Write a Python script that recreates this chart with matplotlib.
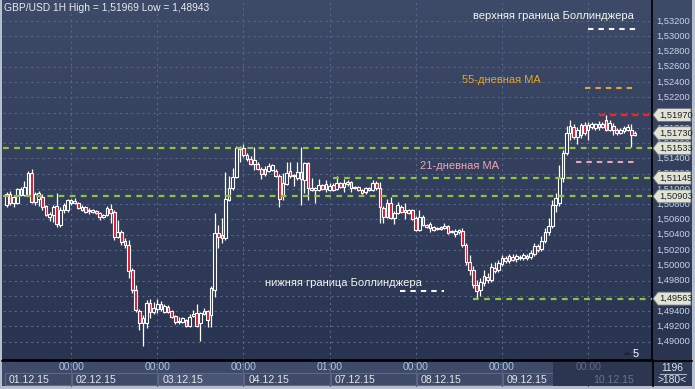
import numpy as np
import matplotlib
matplotlib.use("Agg")
import matplotlib.pyplot as plt
import matplotlib.transforms as mtransforms
from matplotlib.patches import Rectangle, Polygon

plt.rcParams['font.family'] = ['Liberation Sans', 'DejaVu Sans']

W, H = 695, 389

# GBP/USD 1H candles
opens = [
    1.5079, 1.5093, 1.5082, 1.5082, 1.5100, 1.5092, 1.5092, 1.5121, 1.5083, 1.5087,
    1.5089, 1.5078, 1.5063, 1.5066, 1.5078, 1.5053, 1.5072, 1.5072, 1.5086, 1.5082,
    1.5082, 1.5072, 1.5076, 1.5071, 1.5070, 1.5071, 1.5069, 1.5063, 1.5066, 1.5074,
    1.5070, 1.5037, 1.5044, 1.5032, 1.5027, 1.4994, 1.4968, 1.4940, 1.4924, 1.4924,
    1.4951, 1.4939, 1.4943, 1.4949, 1.4939, 1.4945, 1.4940, 1.4934, 1.4926, 1.4926,
    1.4928, 1.4920, 1.4934, 1.4937, 1.4924, 1.4936, 1.4940, 1.4935, 1.4968, 1.5042,
    1.5040, 1.5036, 1.5086, 1.5101, 1.5116, 1.5152, 1.5154, 1.5145, 1.5139, 1.5133,
    1.5133, 1.5126, 1.5120, 1.5123, 1.5125, 1.5123, 1.5117, 1.5092, 1.5106, 1.5123,
    1.5117, 1.5114, 1.5122, 1.5112, 1.5134, 1.5101, 1.5099, 1.5099, 1.5105, 1.5100,
    1.5099, 1.5105, 1.5100, 1.5108, 1.5102, 1.5109, 1.5109, 1.5101, 1.5102, 1.5099,
    1.5096, 1.5099, 1.5099, 1.5108, 1.5101, 1.5075, 1.5063, 1.5082, 1.5062, 1.5069,
    1.5076, 1.5072, 1.5072, 1.5072, 1.5062, 1.5046, 1.5063, 1.5053, 1.5049, 1.5050,
    1.5048, 1.5048, 1.5049, 1.5051, 1.5044, 1.5041, 1.5044, 1.5045, 1.5027, 1.5004,
    1.4994, 1.4974, 1.4968, 1.4977, 1.4985, 1.4981, 1.4996, 1.4994, 1.5002, 1.5010,
    1.5006, 1.5011, 1.5008, 1.5011, 1.5010, 1.5012, 1.5011, 1.5015, 1.5025, 1.5021,
    1.5032, 1.5044, 1.5051, 1.5079, 1.5082, 1.5114, 1.5147, 1.5173, 1.5181, 1.5168,
    1.5171, 1.5184, 1.5177, 1.5181, 1.5180, 1.5181, 1.5185, 1.5190, 1.5177, 1.5182,
    1.5177, 1.5173, 1.5176, 1.5177, 1.5177, 1.5171,
]
highs = [
    1.5096, 1.5097, 1.5092, 1.5101, 1.5102, 1.5110, 1.5123, 1.5126, 1.5096, 1.5097,
    1.5093, 1.5079, 1.5070, 1.5079, 1.5095, 1.5076, 1.5082, 1.5087, 1.5087, 1.5088,
    1.5083, 1.5079, 1.5078, 1.5075, 1.5074, 1.5072, 1.5070, 1.5067, 1.5078, 1.5080,
    1.5072, 1.5059, 1.5046, 1.5036, 1.5033, 1.4996, 1.4974, 1.4943, 1.4935, 1.4955,
    1.4956, 1.4952, 1.4956, 1.4953, 1.4949, 1.4948, 1.4941, 1.4935, 1.4932, 1.4932,
    1.4930, 1.4936, 1.4941, 1.4949, 1.4939, 1.4944, 1.4941, 1.4973, 1.5069, 1.5053,
    1.5062, 1.5122, 1.5117, 1.5127, 1.5156, 1.5156, 1.5159, 1.5147, 1.5143, 1.5155,
    1.5135, 1.5129, 1.5130, 1.5134, 1.5133, 1.5126, 1.5120, 1.5121, 1.5135, 1.5135,
    1.5120, 1.5135, 1.5155, 1.5135, 1.5135, 1.5114, 1.5102, 1.5113, 1.5106, 1.5112,
    1.5108, 1.5108, 1.5117, 1.5109, 1.5113, 1.5112, 1.5110, 1.5104, 1.5104, 1.5100,
    1.5102, 1.5102, 1.5112, 1.5110, 1.5109, 1.5078, 1.5087, 1.5089, 1.5071, 1.5083,
    1.5079, 1.5082, 1.5074, 1.5074, 1.5065, 1.5072, 1.5066, 1.5054, 1.5057, 1.5051,
    1.5050, 1.5051, 1.5055, 1.5053, 1.5046, 1.5048, 1.5048, 1.5049, 1.5029, 1.5013,
    1.4999, 1.4981, 1.4983, 1.4994, 1.4990, 1.5003, 1.5004, 1.5007, 1.5013, 1.5012,
    1.5015, 1.5015, 1.5015, 1.5013, 1.5016, 1.5015, 1.5020, 1.5029, 1.5028, 1.5038,
    1.5049, 1.5062, 1.5086, 1.5095, 1.5131, 1.5151, 1.5182, 1.5190, 1.5185, 1.5181,
    1.5186, 1.5188, 1.5188, 1.5188, 1.5186, 1.5189, 1.5188, 1.51969, 1.5190, 1.5186,
    1.5180, 1.5180, 1.5182, 1.5185, 1.5185, 1.5176,
]
lows = [
    1.5076, 1.5079, 1.5076, 1.5080, 1.5091, 1.5091, 1.5091, 1.5082, 1.5079, 1.5078,
    1.5072, 1.5065, 1.5058, 1.5057, 1.5050, 1.5050, 1.5069, 1.5070, 1.5079, 1.5080,
    1.5074, 1.5071, 1.5069, 1.5067, 1.5069, 1.5067, 1.5059, 1.5062, 1.5065, 1.5055,
    1.5033, 1.5036, 1.5027, 1.5023, 1.4983, 1.4964, 1.4939, 1.4915, 1.48943, 1.4918,
    1.4931, 1.4936, 1.4937, 1.4940, 1.4937, 1.4937, 1.4931, 1.4923, 1.4923, 1.4924,
    1.4919, 1.4919, 1.4932, 1.4919, 1.4901, 1.4935, 1.4919, 1.4919, 1.4958, 1.5023,
    1.5029, 1.5033, 1.5084, 1.5099, 1.5114, 1.5135, 1.5142, 1.5137, 1.5131, 1.5125,
    1.5125, 1.5113, 1.5117, 1.5122, 1.5123, 1.5116, 1.5076, 1.5086, 1.5105, 1.5114,
    1.5104, 1.5112, 1.5079, 1.5095, 1.5086, 1.5097, 1.5082, 1.5097, 1.5099, 1.5096,
    1.5097, 1.5097, 1.5099, 1.5101, 1.5096, 1.5104, 1.5096, 1.5100, 1.5097, 1.5093,
    1.5093, 1.5097, 1.5097, 1.5099, 1.5055, 1.5055, 1.5062, 1.5061, 1.5054, 1.5067,
    1.5069, 1.5061, 1.5067, 1.5059, 1.5045, 1.5045, 1.5051, 1.5049, 1.5044, 1.5045,
    1.5046, 1.5046, 1.5048, 1.5041, 1.5042, 1.5037, 1.5041, 1.5024, 1.5000, 1.4987,
    1.4970, 1.4957, 1.4960, 1.4973, 1.4977, 1.4978, 1.4990, 1.4991, 1.4999, 1.5003,
    1.5003, 1.5006, 1.5004, 1.5007, 1.5007, 1.5007, 1.5008, 1.5012, 1.5017, 1.5019,
    1.5029, 1.5040, 1.5049, 1.5070, 1.5078, 1.5109, 1.5145, 1.5164, 1.5165, 1.5159,
    1.5167, 1.5171, 1.5164, 1.5179, 1.5177, 1.5177, 1.5180, 1.5176, 1.5176, 1.5171,
    1.5171, 1.5172, 1.5173, 1.5176, 1.5155, 1.5169,
]
closes = [
    1.5093, 1.5082, 1.5089, 1.5100, 1.5092, 1.5102, 1.5121, 1.5083, 1.5093, 1.5095,
    1.5076, 1.5066, 1.5067, 1.5076, 1.5054, 1.5072, 1.5079, 1.5086, 1.5082, 1.5084,
    1.5075, 1.5076, 1.5070, 1.5072, 1.5072, 1.5069, 1.5063, 1.5066, 1.5075, 1.5069,
    1.5037, 1.5044, 1.5030, 1.5027, 1.4992, 1.4968, 1.4941, 1.4924, 1.4931, 1.4951,
    1.4939, 1.4944, 1.4949, 1.4943, 1.4947, 1.4939, 1.4932, 1.4926, 1.4927, 1.4931,
    1.4920, 1.4932, 1.4936, 1.4920, 1.4937, 1.4940, 1.4928, 1.4970, 1.5042, 1.5037,
    1.5036, 1.5087, 1.5101, 1.5116, 1.5154, 1.5154, 1.5145, 1.5139, 1.5133, 1.5138,
    1.5126, 1.5120, 1.5126, 1.5130, 1.5131, 1.5117, 1.5087, 1.5108, 1.5121, 1.5117,
    1.5118, 1.5122, 1.5113, 1.5134, 1.5101, 1.5099, 1.5101, 1.5105, 1.5100, 1.5106,
    1.5104, 1.5099, 1.5108, 1.5102, 1.5108, 1.5106, 1.5101, 1.5102, 1.5099, 1.5095,
    1.5101, 1.5101, 1.5108, 1.5101, 1.5076, 1.5063, 1.5082, 1.5062, 1.5069, 1.5079,
    1.5070, 1.5070, 1.5069, 1.5061, 1.5046, 1.5063, 1.5053, 1.5050, 1.5054, 1.5046,
    1.5049, 1.5050, 1.5051, 1.5042, 1.5045, 1.5045, 1.5046, 1.5027, 1.5004, 1.4994,
    1.4974, 1.4966, 1.4978, 1.4986, 1.4981, 1.4998, 1.4992, 1.5003, 1.5010, 1.5006,
    1.5012, 1.5007, 1.5012, 1.5010, 1.5013, 1.5010, 1.5016, 1.5025, 1.5020, 1.5032,
    1.5044, 1.5051, 1.5079, 1.5088, 1.5114, 1.5147, 1.5173, 1.5182, 1.5168, 1.5177,
    1.5184, 1.5173, 1.5184, 1.5185, 1.5185, 1.5185, 1.5181, 1.5177, 1.5186, 1.5177,
    1.5173, 1.5177, 1.5180, 1.5181, 1.5171, 1.5173,
]

# support / resistance levels (price, first bar of the dashed line)
level_prices = [1.51533, 1.51145, 1.50903, 1.49563]
level_from_bar = [-1, 91, -1, 130]
high_level = 1.51970          # red line, day high
high_level_from_bar = 165

# indicator markers
upper_bb = 1.53095
ma55 = 1.52322
ma21 = 1.51353
lower_bb = 1.49663

tag_prices = [1.51970, 1.51730, 1.51533, 1.51145, 1.50903, 1.49563]
ytick_prices = [1.490, 1.492, 1.494, 1.496, 1.498, 1.500, 1.502, 1.504, 1.506,
                1.508, 1.510, 1.512, 1.514, 1.516, 1.518, 1.520, 1.522, 1.524,
                1.526, 1.528, 1.530, 1.532]

day_start_bars = [18, 42, 66, 90, 114, 138, 162]
time_labels = ['00:00', '00:00', '00:00', '01:00', '00:00', '00:00', '00:00']
date_labels = ['01.12.15', '02.12.15', '03.12.15', '04.12.15',
               '07.12.15', '08.12.15', '09.12.15', '10.12.15']

title = 'GBP/USD 1H High = 1,51969 Low = 1,48943'

fig = plt.figure(figsize=(W / 100, H / 100), dpi=100)
fig.patch.set_facecolor('#b7bfcc')

# ---- background / frame layer in pixel coordinates ----
ov = fig.add_axes([0, 0, 1, 1], zorder=0)
ov.set_xlim(0, W)
ov.set_ylim(H, 0)
ov.axis('off')

grad = np.linspace(0, 1, 256).reshape(-1, 1)
top = np.array([0x3d, 0x4a, 0x68]) / 255
bot = np.array([0x29, 0x34, 0x50]) / 255
img = top + (bot - top) * grad[:, :, None]
ov.imshow(img, extent=(2, 692, 360, 0), aspect='auto', zorder=0)

# x axis strip
ov.add_patch(Rectangle((2, 360), 690, 26, fc='#3e4a67', ec='none', zorder=1))
ov.add_patch(Rectangle((652, 360), 40, 26, fc='#2e3955', ec='none', zorder=1))
ov.add_patch(Rectangle((553, 361), 99, 25, fc='#2c3651', ec='none', zorder=3))

# ---- main price axes ----
ax = fig.add_axes([3 / W, (H - 360) / H, 649 / W, 360 / H], zorder=1)
ax.patch.set_alpha(0)
ax.set_xlim(-0.975, 179.8)
ax.set_ylim(1.48759, 1.53475)
ax.set_xticks([])
ax.set_yticks([])
for s in ['top', 'left']:
    ax.spines[s].set_visible(False)
ax.spines['right'].set_color('black')
ax.spines['bottom'].set_color('black')
ax.spines['right'].set_linewidth(1.2)
ax.spines['bottom'].set_linewidth(1.2)

grid_kw = dict(color='#56668a', lw=0.8, ls=(0, (2, 3)), zorder=1)
for p in ytick_prices:
    ax.axhline(p, **grid_kw)
for b in day_start_bars:
    ax.axvline(b, **grid_kw)

n = len(closes)
bar_w = 0.75
for i in range(n):
    o, h, l, c = opens[i], highs[i], lows[i], closes[i]
    ax.plot([i, i], [l, h], color='white', lw=0.9, zorder=3, solid_capstyle='butt')
    lo, hi = min(o, c), max(o, c)
    height = max(hi - lo, 0.00003)
    fc = '#e3132c' if c < o else '#2f3b58'
    ax.add_patch(Rectangle((i - bar_w / 2, lo), bar_w, height, fc=fc,
                           ec='white', lw=0.8, zorder=4))

green = '#8cc63f'
dash = (0, (2.6, 2.4))
for p, start in zip(level_prices, level_from_bar):
    ax.plot([start, 180], [p, p], color=green, lw=1.6, ls=dash, zorder=5)
ax.plot([high_level_from_bar, 180], [high_level, high_level], color='#ff2020',
        lw=1.6, ls=dash, zorder=5)

ax.plot([162, 176.5], [upper_bb, upper_bb], color='#f2f2f2', lw=1.5, ls=dash, zorder=5)
ax.plot([161, 175.3], [ma55, ma55], color='#e0a526', lw=1.5, ls=dash, zorder=5)
ax.plot([158.6, 175.3], [ma21, ma21], color='#e7a6b6', lw=1.5, ls=dash, zorder=5)
ax.plot([109.6, 122], [lower_bb, lower_bb], color='#f2f2f2', lw=1.5, ls=dash, zorder=5)

# right price scale
blend = mtransforms.blended_transform_factory(ax.transAxes, ax.transData)
for p in ytick_prices:
    ax.text(1.0065, p, f'{p:.5f}'.replace('.', ','), transform=blend,
            ha='left', va='center', fontsize=6.7, color='#c9d3e6',
            clip_on=False, zorder=2)

# price tags with left arrow
fig.canvas.draw()
for p in tag_prices:
    yd = ax.transData.transform((0, p))[1]
    yp = H - yd
    pts = [(653, yp), (658, yp - 6.5), (691, yp - 6.5), (691, yp + 6.5), (658, yp + 6.5)]
    ax.add_patch(Polygon(pts, closed=True, fc='#e2e3d2', ec='#6c7383', lw=0.6,
                         transform=ov.transData, clip_on=False, zorder=8))
    ax.text(659, yp, f'{p:.5f}'.replace('.', ','), transform=ov.transData,
            ha='left', va='center', fontsize=6.7, color='#1c2230',
            clip_on=False, zorder=9)

# annotations
txt_kw = dict(transform=ov.transData, clip_on=False, zorder=9, va='center', ha='left')
ax.text(4, 8, title, fontsize=7.4, color='#e6eaf2', **txt_kw)
ax.text(473, 16, 'верхняя граница Боллинджера', fontsize=8, color='#f4f4f4', **txt_kw)
ax.text(462, 80, '55-дневная MA', fontsize=8, color='#e8a522', **txt_kw)
ax.text(420, 166, '21-дневная MA', fontsize=8, color='#eaa6ba', **txt_kw)
ax.text(265, 283, 'нижняя граница Боллинджера', fontsize=8, color='#f4f4f4', **txt_kw)
ax.text(633, 354, '5', fontsize=8, color='white', **txt_kw)
ax.add_patch(Polygon([(623, 355), (627, 351), (631, 355)], closed=True, fc='#1e2535',
                     ec='none', transform=ov.transData, clip_on=False, zorder=9))

# x axis labels
fig_x = lambda b: ax.transData.transform((b, 0))[0]
edges = [4] + [fig_x(b) for b in day_start_bars]
for k, lab in enumerate(date_labels):
    x0 = edges[k] + 1
    x1 = edges[k + 1] if k + 1 < len(edges) else 652
    if k == 6:
        x1 = 553
    dim = k == 7
    if not dim:
        fc = '#4a5675' if k == 2 else '#3e4a67'
        ov.add_patch(Rectangle((x0, 373), x1 - x0, 12, fc=fc, ec='#5c6884', lw=0.8, zorder=2))
    ov.text(x0 + 4, 380, lab, fontsize=7.6, color='#66728e' if dim else '#e3e7ef',
            va='center', ha='left', zorder=4)
for b, lab in zip(day_start_bars, time_labels):
    x = fig_x(b)
    dim = b >= 160
    ov.plot([x, x], [360, 386], color='#56627f', lw=0.8, zorder=2)
    ov.text(x, 367, lab, fontsize=7.6, color='#5f6d8c' if dim else '#a9c6ec',
            va='center', ha='center', zorder=4)

ov.text(672, 368, '1196', fontsize=7.4, color='#dde3ee', ha='center', va='center', zorder=4)
ov.plot([660, 686], [374, 374], color='#aab4c8', lw=0.8, zorder=4)
ov.text(672, 380, '>180<', fontsize=7.4, color='#dde3ee', ha='center', va='center', zorder=4)
ov.plot([2, 692], [360.5, 360.5], color='black', lw=1.2, zorder=5)
ov.plot([652.5, 652.5], [360, 386], color='black', lw=1.2, zorder=5)

fig.savefig('out.png', dpi=100)
